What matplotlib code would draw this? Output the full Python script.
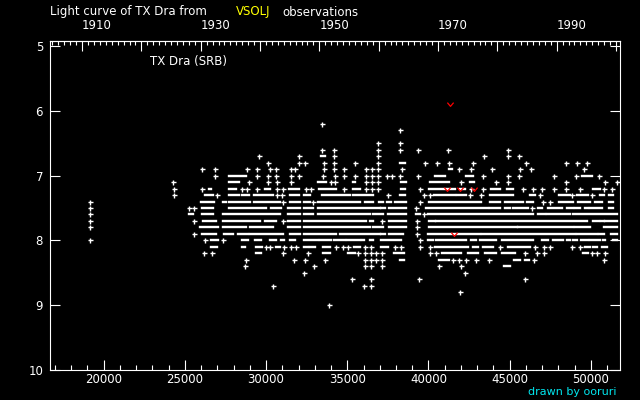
import matplotlib
matplotlib.use('Agg')
import matplotlib.pyplot as plt
from matplotlib.path import Path
from matplotlib.ticker import MultipleLocator, NullLocator, FuncFormatter, FixedLocator

# --- observations (JD - 2400000, visual mag) ---
# plain numbers are single estimates, (start, end) pairs are dense runs
m62 = [33475]
m63 = [38227]
m65 = [36893, 38227]
m66 = [33461, 34180, 36893, 38227, 39357, 41207, 44906]
m67 = [29557, 32023, (33400, 33605), 34180, 36893, 43426, 44906, 45584]
m68 = [30112, 32023, 32393, 33544, 34180, 35475, 36893, (38227, 38535), 39768,
       40549, 41268, 42748, 45995, 48481, 49160, 49776]
m69 = [26043, 26844, 28817, 29454, 30235, 30626, 31509, 31776, 33544, 34180,
       34797, 36174, 36523, 36893, 38371, (41268, 41474), 41885, 42645, 43940,
       45646, 46324, 49591]
m70 = [26844, (27707, 28776), 29454, 30112, 30626, 31509, 32023, 33503, 34242,
       34797, 35475, 36153, 36523, 36893, 37448, 37757, 38227, 39357,
       (40385, 41001), (42296, 42748), 43364, 44906, 45584, 47742, 49098,
       (49427, 50043), 50516]
m71 = [24253, (27707, 28365), 28940, 30112, 30667, 31509, (33194, 33708), 33975,
       34242, (35352, 35496), 36174, 36523, 36893, (38330, 38597),
       (40077, 41268), 42029, (42543, 42789), 44187, 44906, 48440, 50886, 51626]
m72 = [24315, 26043, (26474, 26618), (27707, 28160), 28509, 28817, 29454,
       (29906, 30215), 30687, 31037, (31406, 32023), 32434, 32743,
       (33256, 34324), 34797, (35352, 35804), 36174, 36523, 36893,
       (38330, 38535), 39501, (40035, 41618), (41926, 42234), 42645, 43364,
       (43878, 44392), (44803, 45173), 45789, 46447, 47002, 47742, 48440, 49345,
       (50146, 50557), 50804, 51317]
m73 = [24315, (26248, 26721), 26988, (27707, 28324), (28529, 28940),
       (29269, 30420), 30687, 30975, (31447, 32023), (32311, 32722),
       (33420, 35147), (35352, 36585), 37510, (38227, 38535), 39727, 40077,
       (40344, 41618), (41762, 42337), 42543, 43262, (43776, 45173),
       (46242, 46550), 46879, (48029, 48708), 48851, (49119, 49797), 50043,
       (50557, 50804), (51132, 51379)]
m74 = [19150, (26002, 26783), (27338, 27543), (27707, 28982), (29269, 30831),
       31037, (31447, 32064), (32352, 32681), 32886, (33174, 35763),
       (36071, 36585), (36955, 37202), (37448, 37715), (37921, 38597), 39460,
       (40035, 43262), (43776, 44392), (44700, 45831), (46036, 46406), 47022,
       47475, (48050, 48913), (49221, 49941), (50249, 50660), (51132, 51379)]
m75 = [19150, 25241, 25591, (26063, 26721), (27707, 30009), (30317, 30934),
       (31345, 32064), (32352, 32886), (33174, 36996), (37099, 37304),
       (37571, 38638), 39255, (39830, 43673), (43776, 44392), (44700, 45009),
       (45214, 46139), 46344, (46755, 46961), (47372, 48194), (48502, 48913),
       (49016, 49324), (49632, 49838), (49941, 50660), (51132, 51379)]
m76 = [19150, (25283, 25529), (26063, 26721), (27338, 30831), (31345, 32064),
       (32352, 32886), (33174, 36380), (36585, 37202), (37510, 38597),
       (39255, 39501), 39707, (39974, 46447), (46755, 47166), (47269, 48708),
       (48872, 51584)]
m77 = [19150, 25591, (26105, 26927), (27338, 29598), (29906, 30626), 31037,
       (31345, 32064), (32311, 36174), (36380, 36585), 37140, (37571, 38638),
       39296, (40035, 40385), (40487, 49735), (50146, 50475), (50619, 50804),
       (50865, 51584)]
m78 = [19150, (25940, 27029), (27338, 28776), (28982, 30420), (31345, 32064),
       (32311, 36380), (36585, 37202), (37571, 38638), 39296, (40035, 45420),
       (45522, 48913), (49016, 49941), (50804, 51584)]
m79 = [25550, (26063, 26927), (27399, 27954), (28283, 28879), (29023, 31037),
       (31447, 32064), (32311, 34324), (34530, 36996), (37099, 37304),
       (37571, 38433), 39296, (39974, 43159), (43323, 49016), (49119, 50352),
       (50516, 50804), (51214, 51584)]
m80 = [19150, 26269, (26618, 27029), 27338, (28529, 28879), (29310, 29701),
       (30215, 30626), (30934, 31098), (31447, 31756), (32311, 33194),
       (33297, 34016), (34160, 34838), (35003, 35763), (35927, 36030),
       (36380, 36585), (37099, 38330), 39460, (39974, 40282), (40446, 42337),
       (42645, 42954), (43159, 44187), (44495, 46447), (46961, 47372),
       (47680, 48297), (48502, 48708), (48913, 49119), (49386, 49797),
       (49941, 50557), (50763, 50865), (51379, 51584)]
m81 = [(26618, 26968), (28529, 28735), (29393, 29762), 29968, 30256,
       (30626, 30831), 31119, 31509, 31817, (32331, 32578), (32722, 32989),
       (33503, 33914), 34283, 34736, 35064, (35393, 35763), 36071, 36482,
       (37099, 37510), 37962, 38330, 39460, 40118, (40385, 42440),
       (42748, 43056), (43364, 43981), 44392, (44906, 46242), 46550, 47125,
       47475, 48810, 49324, (49632, 49941), (50105, 50352), (50660, 50968)]
m82 = [26166, 26680, (29393, 29701), 31037, 32578, (33503, 33914),
       (35044, 35455), 35660, 36071, 36441, 36791, 37140, (37880, 38474), 40077,
       40446, (40857, 42029), (42440, 43056), (43467, 44187), (44556, 45317),
       45933, 46653, 47125, (49530, 49838), 50084, 50352, 50865]
m83 = [28776, 31714, 32393, 33605, 36071, 36482, 36791, 37140, (38227, 38474),
       (40652, 41268), 41515, 41885, 42337, 42954, 43734, (45276, 45625),
       (45933, 46200), 46488, 50824]
m84 = [28714, 32948, 36112, 36441, 37140, 40652, 42029, (44659, 45009)]
m85 = [32331, 42275]
m86 = [35290, 36482, 39419, 45954]
m87 = [30420, 36030, 36482]
m88 = [41947]
m90 = [33872]

rows = [(6.2, m62), (6.3, m63), (6.5, m65), (6.6, m66), (6.7, m67), (6.8, m68),
        (6.9, m69), (7.0, m70), (7.1, m71), (7.2, m72), (7.3, m73), (7.4, m74),
        (7.5, m75), (7.6, m76), (7.7, m77), (7.8, m78), (7.9, m79), (8.0, m80),
        (8.1, m81), (8.2, m82), (8.3, m83), (8.4, m84), (8.5, m85), (8.6, m86),
        (8.7, m87), (8.8, m88), (9.0, m90)]

# red marks (other observation type)
red_jd = [41330, 41145, 41947, 42810, 41577]
red_mag = [5.9, 7.2, 7.2, 7.2, 7.9]

year_ticks = [1910, 1920, 1930, 1940, 1950, 1960, 1970, 1980, 1990, 2000]

fig = plt.figure(figsize=(6.4, 4), dpi=100, facecolor='black')
ax = fig.add_axes([50 / 640, 30 / 400, 570 / 640, 329.3 / 400])
ax.set_facecolor('black')

for mag, row in rows:
    pts = [v for v in row if not isinstance(v, tuple)]
    runs = [v for v in row if isinstance(v, tuple)]
    if runs:
        lc = ax.hlines([mag] * len(runs), [r[0] for r in runs], [r[1] for r in runs],
                       colors='white', lw=1.7)
        lc.set_capstyle('projecting')
    if pts:
        ax.plot(pts, [mag] * len(pts), '+', color='white', ms=3.6, mew=1.0)

vee = Path([(-1, 0.6), (0, -0.6), (1, 0.6)], [Path.MOVETO, Path.LINETO, Path.LINETO])
ax.plot(red_jd, red_mag, ls='none', marker=vee, ms=4.5, mfc='none', mec='red', mew=0.9)

ax.set_xlim(16700, 51790)
ax.set_ylim(10, 4.918)
for s in ax.spines.values():
    s.set_color('white')
    s.set_linewidth(0.8)

ax.xaxis.set_major_locator(MultipleLocator(5000))
ax.xaxis.set_minor_locator(MultipleLocator(1000))
ax.xaxis.set_major_formatter(FuncFormatter(lambda v, p: f'{int(v)}'))
ax.yaxis.set_major_locator(MultipleLocator(1))
ax.yaxis.set_minor_locator(NullLocator())
ax.yaxis.set_major_formatter(FuncFormatter(lambda v, p: f'{int(round(v))}'))
ax.tick_params(axis='both', which='both', direction='in', colors='white',
               labelsize=8.5, width=0.8)
ax.tick_params(axis='x', which='major', length=7.2, pad=2.5, top=False)
ax.tick_params(axis='x', which='minor', length=3.6, top=False)
ax.tick_params(axis='y', which='major', length=7.2, right=True, pad=5)


def jd2yr(jd):
    return 2000 + (jd - 51545) / 365.25


def yr2jd(yr):
    return 51545 + (yr - 2000) * 365.25


secax = ax.secondary_xaxis('top', functions=(jd2yr, yr2jd))
secax.xaxis.set_major_locator(FixedLocator(year_ticks))
secax.xaxis.set_minor_locator(FixedLocator(list(range(1905, 2001))))
secax.xaxis.set_major_formatter(
    FuncFormatter(lambda v, p: f'{int(round(v))}' if int(round(v)) % 20 == 10 else ''))
secax.tick_params(axis='x', which='both', direction='in', colors='white',
                  labelsize=8.5, width=0.8)
secax.tick_params(axis='x', which='major', length=7.2, pad=6)
secax.tick_params(axis='x', which='minor', length=3.0)
for s in secax.spines.values():
    s.set_color('white')
    s.set_linewidth(0.8)

fig.canvas.draw()
plt.setp(secax.get_xticklabels(), ha='left')

ty = 1 - 12 / 400
fig.text(50 / 640, ty, 'Light curve of TX Dra from', color='white', fontsize=8.5, va='center')
fig.text(236 / 640, ty, 'VSOLJ', color='yellow', fontsize=8.5, va='center')
fig.text(282 / 640, ty, 'observations', color='white', fontsize=8.5, va='center')
fig.text(150 / 640, 1 - 61 / 400, 'TX Dra (SRB)', color='white', fontsize=8.5, va='center')
fig.text(617 / 640, 1 - 392 / 400, 'drawn by ooruri', color='#00e6ee', fontsize=8,
         ha='right', va='center')

fig.savefig('out.png', dpi=100, facecolor='black')
